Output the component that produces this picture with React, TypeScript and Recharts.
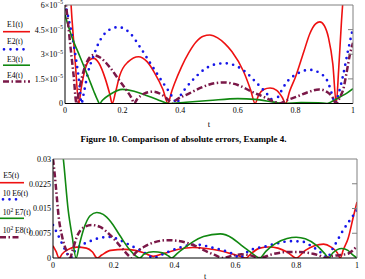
import { LineChart, Line, XAxis, YAxis } from "recharts";

type Pt = [number, number];

const FONT = "'Liberation Serif', 'Times New Roman', serif";

const tTicks = [0, 0.2, 0.4, 0.6, 0.8, 1];
const tInner = [0.2, 0.4, 0.6, 0.8];

// Upper panel: absolute errors, read in units of 1e-5
const upperTicks = [0, 1.5e-5, 3e-5, 4.5e-5, 6e-5];
const upperMantissa = ["0", "1.5", "3", "4.5", "6"];

const e1: Pt[] = [
  [0, 11], [0.012, 8.5], [0.024, 5.2], [0.036, 2.4], [0.048, 0], [0.056, 0.9],
  [0.07, 2.1], [0.085, 2.65], [0.1, 2.75], [0.118, 2.45], [0.14, 1.5], [0.155, 0.6],
  [0.164, 0], [0.175, 0.65], [0.19, 1.7], [0.22, 2.55], [0.255, 2.85], [0.285, 2.55],
  [0.31, 1.9], [0.34, 0.85], [0.358, 0], [0.368, 0.6], [0.38, 1.2], [0.405, 2.25],
  [0.43, 3.1], [0.455, 3.75], [0.48, 4.1], [0.503, 4.17], [0.53, 4.0], [0.555, 3.65],
  [0.58, 3.15], [0.62, 1.95], [0.645, 0.8], [0.66, 0], [0.672, 0.5], [0.69, 0.85],
  [0.712, 0.94], [0.735, 0.8], [0.755, 0.35], [0.766, 0], [0.78, 0.75], [0.8, 1.6],
  [0.83, 3.2], [0.85, 4.25], [0.87, 4.85], [0.885, 4.97], [0.9, 4.75], [0.915, 4.0],
  [0.93, 2.4], [0.942, 0], [0.95, 2.0], [0.96, 5.0], [0.975, 8.5], [1, 14],
];

const e2: Pt[] = [
  [0, 6.1], [0.012, 5.2], [0.025, 4.1], [0.04, 2.5], [0.05, 1.2], [0.057, 0],
  [0.066, 0.7], [0.08, 1.9], [0.098, 2.85], [0.116, 3.65], [0.133, 4.15], [0.155, 4.5],
  [0.185, 4.65], [0.225, 4.3], [0.26, 3.45], [0.3, 2.35], [0.335, 1.4], [0.36, 0.75],
  [0.378, 0.25], [0.388, 0], [0.4, 0.45], [0.42, 0.95], [0.45, 1.55], [0.49, 2.15],
  [0.525, 2.4], [0.556, 2.45], [0.59, 2.32], [0.625, 1.95], [0.66, 1.35], [0.69, 0.8],
  [0.715, 0.3], [0.728, 0], [0.74, 0.4], [0.77, 1.3], [0.805, 1.8], [0.85, 2.05],
  [0.885, 1.85], [0.913, 1.3], [0.928, 0.5], [0.937, 0], [0.95, 0.6], [0.966, 1.75],
  [0.983, 3.25], [1, 4.6],
];

const e3: Pt[] = [
  [0, 5.4], [0.023, 4.1], [0.052, 2.85], [0.081, 1.6], [0.1, 0.75], [0.112, 0.25],
  [0.12, 0], [0.13, 0.2], [0.156, 0.55], [0.2, 0.86], [0.24, 0.75], [0.28, 0.5],
  [0.32, 0.25], [0.36, 0], [0.42, 0.08], [0.5, 0.18], [0.6, 0.3], [0.66, 0.25],
  [0.72, 0.1], [0.76, 0], [0.82, 0.06], [0.88, 0.05], [0.91, 0], [0.93, 0.15],
  [0.955, 0.4], [0.98, 0.65], [1, 0.9],
];

const e4: Pt[] = [
  [0, 6.5], [0.01, 5.0], [0.02, 3.3], [0.03, 1.7], [0.04, 0], [0.05, 0.9],
  [0.064, 1.95], [0.078, 2.6], [0.098, 2.95], [0.122, 2.8], [0.156, 2.2], [0.185, 1.5],
  [0.214, 0.8], [0.232, 0.3], [0.24, 0], [0.25, 0.25], [0.275, 0.6], [0.305, 0.72],
  [0.335, 0.55], [0.36, 0.2], [0.372, 0], [0.385, 0.2], [0.43, 0.6], [0.47, 0.95],
  [0.51, 1.2], [0.55, 1.28], [0.6, 1.13], [0.645, 0.75], [0.69, 0.4], [0.725, 0.12],
  [0.745, 0], [0.77, 0.2], [0.805, 0.42], [0.845, 0.7], [0.882, 0.86], [0.91, 0.7],
  [0.93, 0.35], [0.941, 0], [0.955, 0.4], [0.966, 0.85], [0.978, 1.9], [0.99, 3.05],
  [1, 3.7],
];

// Lower panel: scaled errors, read in units of 1e-3
const lowerTicks = [0, 0.0075, 0.015, 0.0225, 0.03];
const lowerLabels = ["0", "0.0075", "0.015", "0.0225", "0.03"];

const e5: Pt[] = [
  [0, 3.7], [0.01, 2.0], [0.02, 0], [0.03, 1.2], [0.045, 2.4], [0.078, 3.3],
  [0.11, 3.0], [0.13, 1.8], [0.145, 0], [0.16, 0.9], [0.19, 2.3], [0.235, 2.6],
  [0.27, 2.3], [0.3, 1.5], [0.33, 0.5], [0.365, 1.4], [0.41, 2.6], [0.46, 3.2],
  [0.505, 2.9], [0.55, 2.2], [0.59, 1.2], [0.622, 0.3], [0.635, 0], [0.65, 1.2],
  [0.68, 3.0], [0.71, 3.35], [0.74, 3.0], [0.77, 1.8], [0.8, 0], [0.83, 2.3],
  [0.86, 3.7], [0.89, 4.2], [0.915, 3.3], [0.935, 1.6], [0.945, 0], [0.955, 2.5],
  [0.971, 6.0], [0.988, 12.5], [1, 17],
];

const e6: Pt[] = [
  [0, 10], [0.012, 7.8], [0.023, 5.7], [0.034, 3.5], [0.045, 1.6], [0.057, 0],
  [0.068, 1.6], [0.089, 3.7], [0.11, 4.6], [0.155, 6.1], [0.1875, 6.4], [0.22, 5.4],
  [0.253, 3.9], [0.286, 2.4], [0.31, 1.1], [0.33, 0], [0.35, 0.7], [0.38, 1.9],
  [0.418, 3.2], [0.45, 3.9], [0.484, 4.0], [0.516, 3.3], [0.56, 2.3], [0.593, 1.2],
  [0.615, 0], [0.63, 1.2], [0.648, 2.3], [0.703, 3.6], [0.736, 4.4], [0.78, 5.1],
  [0.818, 5.0], [0.845, 3.9], [0.873, 2.2], [0.895, 0.6], [0.903, 0], [0.915, 2.0],
  [0.933, 4.9], [0.955, 8.5], [0.977, 11.5], [1, 14.5],
];

const e7: Pt[] = [
  [0, 55], [0.02, 40], [0.034, 30], [0.05, 14.5], [0.063, 6.6], [0.076, 0],
  [0.088, 4.5], [0.1, 8.5], [0.122, 12.8], [0.144, 13.8], [0.165, 13.2], [0.19, 11],
  [0.22, 6.8], [0.253, 2.4], [0.27, 0.8], [0.285, 0], [0.3, 1.2], [0.33, 1.9],
  [0.36, 1.6], [0.38, 0.6], [0.39, 0], [0.41, 1.5], [0.43, 2.9], [0.46, 4.9],
  [0.495, 6.5], [0.55, 7.3], [0.59, 6.0], [0.615, 4.2], [0.65, 1.8], [0.68, 0],
  [0.7, 2.0], [0.73, 4.3], [0.77, 5.9], [0.8, 6.3], [0.83, 5.8], [0.87, 3.6],
  [0.895, 1.2], [0.907, 0], [0.92, 1.5], [0.95, 2.9], [0.97, 2.3], [0.985, 1.0],
  [1, 0],
];

const e8: Pt[] = [
  [0, 30], [0.006, 25], [0.012, 19], [0.018, 13], [0.03, 6.5], [0.045, 2.0],
  [0.056, 0], [0.065, 2.5], [0.078, 6.3], [0.1, 9.2], [0.127, 10.0], [0.155, 9.4],
  [0.1875, 7.0], [0.21, 4.8], [0.232, 2.4], [0.25, 0.6], [0.258, 0], [0.27, 1.4],
  [0.3, 3.4], [0.335, 4.8], [0.375, 5.4], [0.41, 5.2], [0.44, 4.6], [0.472, 3.5],
  [0.5, 2.2], [0.53, 1.0], [0.56, 0], [0.59, 0.7], [0.62, 1.1], [0.65, 0.8],
  [0.68, 0], [0.72, 1.1], [0.77, 1.8], [0.81, 1.8], [0.855, 1.3], [0.88, 0.6],
  [0.895, 0], [0.92, 0.6], [0.945, 0.9], [0.97, 1.3], [0.985, 2.2], [1, 3.6],
];

const RED = "#ee1111";
const BLUE = "#1515e8";
const GREEN = "#118811";
const MAROON = "#7a1848";

const rows = (pts: Pt[], unit: number) => pts.map(([t, v]) => ({ t, v: v * unit }));

const styles = [
  { stroke: RED, strokeWidth: 1.6 },
  { stroke: BLUE, strokeWidth: 2.7, strokeDasharray: "0 6.5", strokeLinecap: "round" as const },
  { stroke: GREEN, strokeWidth: 1.6 },
  { stroke: MAROON, strokeWidth: 2.5, strokeDasharray: "6 2.5 1.5 2.5" },
];

// pick the label by the tick's value, not its position in the rendered list
const labelFor = (ticks: number[], value: number) => {
  let best = 0;
  ticks.forEach((tk, i) => {
    if (Math.abs(tk - value) < Math.abs(ticks[best] - value)) best = i;
  });
  return best;
};

const UpperYTick = ({ x, y, payload }: any) => {
  const m = upperMantissa[labelFor(upperTicks, payload.value)];
  return (
    <text x={x} y={y} dy={2.9} textAnchor="end" fontSize={8} fontFamily={FONT} fill="#000">
      {m === "0" ? "0" : (
        <>
          {m}×10<tspan dy={-3.5} fontSize={5.5}>−5</tspan>
        </>
      )}
    </text>
  );
};

const LowerYTick = ({ x, y, payload }: any) => (
  <text x={x} y={y} dy={2.9} textAnchor="end" fontSize={8} fontFamily={FONT} fill="#000">
    {lowerLabels[labelFor(lowerTicks, payload.value)]}
  </text>
);

function Panel({
  series, unit, ticks, yTick, yWidth, margin, height, tickGap,
}: {
  series: Pt[][]; unit: number; ticks: number[]; yTick: any; yWidth: number;
  margin: { top: number; right: number; bottom: number; left: number };
  height: number; tickGap: number;
}) {
  const domain = [ticks[0], ticks[ticks.length - 1]];
  return (
    <LineChart width={365} height={height} margin={margin}>
      <XAxis
        xAxisId="b" dataKey="t" type="number" domain={[0, 1]} ticks={tTicks} interval={0}
        allowDataOverflow height={20} tickSize={0} tickMargin={tickGap}
        axisLine={{ stroke: "#000", strokeWidth: 1 }}
        tick={{ fontSize: 8, fill: "#000", fontFamily: FONT }}
      />
      <XAxis
        xAxisId="top" orientation="top" mirror type="number" domain={[0, 1]} ticks={tInner}
        interval={0} allowDataOverflow tickSize={5} tickFormatter={() => ""}
        axisLine={{ stroke: "#808080" }} tickLine={{ stroke: "#808080" }}
      />
      <YAxis
        yAxisId="l" type="number" domain={domain} ticks={ticks} interval={0} allowDataOverflow
        width={yWidth} tickSize={0} tickMargin={2} tick={yTick}
        axisLine={{ stroke: "#000", strokeWidth: 1 }}
      />
      <YAxis
        yAxisId="right" orientation="right" mirror type="number" domain={domain}
        ticks={ticks.slice(1, -1)} interval={0} allowDataOverflow tickSize={5}
        tickFormatter={() => ""}
        axisLine={{ stroke: "#808080" }} tickLine={{ stroke: "#808080" }}
      />
      {series.map((pts, i) => (
        <Line
          key={i}
          xAxisId="b"
          yAxisId="l"
          data={rows(pts, unit)}
          dataKey="v"
          type="monotone"
          dot={false}
          activeDot={false}
          isAnimationActive={false}
          fill="none"
          {...styles[i]}
        />
      ))}
    </LineChart>
  );
}

function LegendKey({ y, i, x1, x2 }: { y: number; i: number; x1: number; x2: number }) {
  const s = styles[i];
  return (
    <line x1={x1} x2={x2} y1={y} y2={y} stroke={s.stroke} strokeWidth={s.strokeWidth}
      strokeDasharray={s.strokeDasharray} strokeLinecap={s.strokeLinecap} />
  );
}

export default function App() {
  const txt = { fontSize: 7.7, fontFamily: FONT, fill: "#000" };
  return (
    <div style={{ position: "absolute", left: 0, top: 0, width: 365, height: 279, background: "#fff", overflow: "hidden" }}>
      <div style={{ position: "absolute", left: 0, top: 0 }}>
        <Panel
          series={[e1, e2, e3, e4]} unit={1e-5} ticks={upperTicks} yTick={<UpperYTick />}
          yWidth={60} height={130} margin={{ top: 5, right: 12, bottom: 6.5, left: 5 }} tickGap={3.5}
        />
      </div>
      <div style={{ position: "absolute", left: 0, top: 150 }}>
        <Panel
          series={[e5, e6, e7, e8]} unit={1e-3} ticks={lowerTicks} yTick={<LowerYTick />}
          yWidth={48} height={129} margin={{ top: 9, right: 8, bottom: 1, left: 5 }} tickGap={4.5}
        />
      </div>
      <svg width={365} height={279} style={{ position: "absolute", left: 0, top: 0, pointerEvents: "none" }}>
        <text x={7} y={27.3} {...txt}>E1(t)</text>
        <LegendKey y={31.7} i={0} x1={3} x2={30} />
        <text x={7} y={44.2} {...txt}>E2(t)</text>
        <LegendKey y={49.3} i={1} x1={4} x2={28} />
        <text x={7} y={62.3} {...txt}>E3(t)</text>
        <LegendKey y={65.2} i={2} x1={3} x2={30} />
        <text x={7} y={78.2} {...txt}>E4(t)</text>
        <LegendKey y={81.5} i={3} x1={3} x2={30} />

        <text x={209} y={127} textAnchor="middle" fontSize={8.5} fontFamily={FONT}>t</text>
        <text x={183.5} y={142} textAnchor="middle" fontSize={9} fontWeight="bold" fontFamily={FONT}>
          Figure 10. Comparison of absolute errors, Example 4.
        </text>

        <text x={3.3} y={177.8} {...txt}>E5(t)</text>
        <LegendKey y={182.7} i={0} x1={0} x2={24} />
        <text x={2.7} y={195.5} {...txt}>10 E6(t)</text>
        <LegendKey y={199.3} i={1} x1={3} x2={22} />
        <text x={2.7} y={214.5} {...txt}>
          10<tspan dy={-3} fontSize={5.5}>2</tspan><tspan dy={3}> E7(t)</tspan>
        </text>
        <LegendKey y={218.3} i={2} x1={0} x2={24} />
        <text x={2.7} y={232.8} {...txt}>
          10<tspan dy={-3} fontSize={5.5}>2</tspan><tspan dy={3}> E8(t)</tspan>
        </text>
        <LegendKey y={237.3} i={3} x1={0} x2={21} />

        <text x={205} y={278.5} textAnchor="middle" fontSize={8} fontFamily={FONT}>t</text>
      </svg>
    </div>
  );
}
